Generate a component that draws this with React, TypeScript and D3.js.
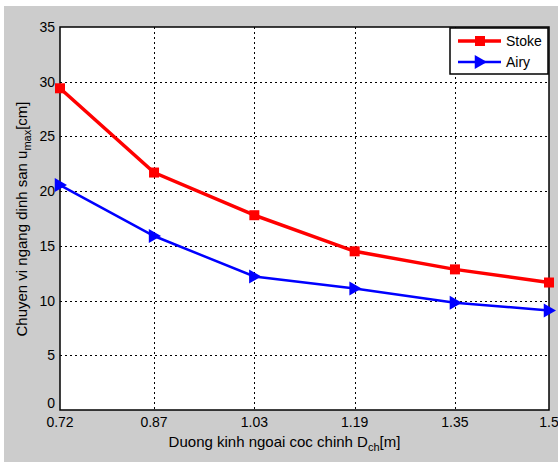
import React from "react";
import * as d3 from "d3";

const xValues = [0.72, 0.87, 1.03, 1.19, 1.35, 1.5];
const xTickLabels = ["0.72", "0.87", "1.03", "1.19", "1.35", "1.5"];
const stokeValues = [29.4, 21.7, 17.8, 14.5, 12.85, 11.65];
const airyValues = [20.55, 15.9, 12.2, 11.1, 9.8, 9.1];
const yTicks = [0, 5, 10, 15, 20, 25, 30, 35];

const W = 558;
const H = 462;
const L = 60, R = 549, T = 27, B = 410;
const font = "'Liberation Sans', Arial, Helvetica, sans-serif";

export default function App() {
  const x = d3.scaleLinear().domain([0.72, 1.5]).range([L, R]);
  const y = d3.scaleLinear().domain([0, 35]).range([B, T]);
  const line = d3
    .line<number>()
    .x((_, i) => x(xValues[i]))
    .y((d) => y(d));

  const tri = (cx: number, cy: number, s = 7) =>
    `M${cx - s * 0.75},${cy - s} L${cx + s},${cy} L${cx - s * 0.75},${cy + s} Z`;

  return (
    <svg
      width={W}
      height={H}
      style={{ position: "absolute", left: 0, top: 0 }}
      fontFamily={font}
    >
      <rect x={0} y={0} width={W} height={H} fill="#fff" />
      <rect x={4} y={6} width={W - 4} height={H - 6} fill="#cccccc" />
      <rect x={L} y={T} width={R - L} height={B - T} fill="#fff" />
      {/* grid */}
      {xValues.slice(1, -1).map((v, i) => (
        <line
          key={"gx" + i}
          x1={Math.round(x(v)) + 0.5}
          x2={Math.round(x(v)) + 0.5}
          y1={T}
          y2={B}
          stroke="#000"
          strokeWidth={1}
          strokeDasharray="2,3"
        />
      ))}
      {yTicks.slice(1, -1).map((v, i) => (
        <line
          key={"gy" + i}
          x1={L}
          x2={R}
          y1={Math.round(y(v)) + 0.5}
          y2={Math.round(y(v)) + 0.5}
          stroke="#000"
          strokeWidth={1}
          strokeDasharray="2,3"
        />
      ))}
      {/* box */}
      <rect
        x={L}
        y={T}
        width={R - L}
        height={B - T}
        fill="none"
        stroke="#000"
        strokeWidth={1.5}
      />
      {/* y tick labels */}
      {yTicks.map((v) => (
        <text
          key={"yt" + v}
          x={L - 5}
          y={v === 0 ? y(v) - 2 : y(v) + 5}
          textAnchor="end"
          fontSize={14}
          fill="#000"
        >
          {v}
        </text>
      ))}
      {/* x tick labels */}
      {xValues.map((v, i) => (
        <text
          key={"xt" + i}
          x={x(v)}
          y={B + 17}
          textAnchor="middle"
          fontSize={14}
          fill="#000"
        >
          {xTickLabels[i]}
        </text>
      ))}
      {/* axis labels */}
      <text x={(L + R) / 2 - 20} y={447} textAnchor="middle" fontSize={15} fill="#000">
        Duong kinh ngoai coc chinh D
        <tspan fontSize={11} dy={4}>ch</tspan>
        <tspan dy={-4}>[m]</tspan>
      </text>
      <text
        transform={`translate(27, 219) rotate(-90)`}
        textAnchor="middle"
        fontSize={15}
        fill="#000"
      >
        Chuyen vi ngang dinh san u
        <tspan fontSize={11} dy={4}>max</tspan>
        <tspan dy={-4}>[cm]</tspan>
      </text>
      {/* series */}
      <path d={line(stokeValues) || ""} fill="none" stroke="#ff0000" strokeWidth={3.5} />
      {stokeValues.map((v, i) => (
        <rect
          key={"s" + i}
          x={x(xValues[i]) - 5}
          y={y(v) - 5}
          width={10}
          height={10}
          fill="#ff0000"
        />
      ))}
      <path d={line(airyValues) || ""} fill="none" stroke="#0000ff" strokeWidth={2.5} />
      {airyValues.map((v, i) => (
        <path key={"a" + i} d={tri(x(xValues[i]), y(v))} fill="#0000ff" />
      ))}
      {/* legend */}
      <rect x={450} y={28} width={98} height={46} fill="#fff" stroke="#000" strokeWidth={1.5} />
      <line x1={458} x2={501} y1={41} y2={41} stroke="#ff0000" strokeWidth={3.5} />
      <rect x={475} y={36} width={10} height={10} fill="#ff0000" />
      <text x={506} y={46} fontSize={14} fill="#000">Stoke</text>
      <line x1={458} x2={501} y1={62} y2={62} stroke="#0000ff" strokeWidth={2.5} />
      <path d={tri(480, 62)} fill="#0000ff" />
      <text x={506} y={67} fontSize={14} fill="#000">Airy</text>
    </svg>
  );
}
